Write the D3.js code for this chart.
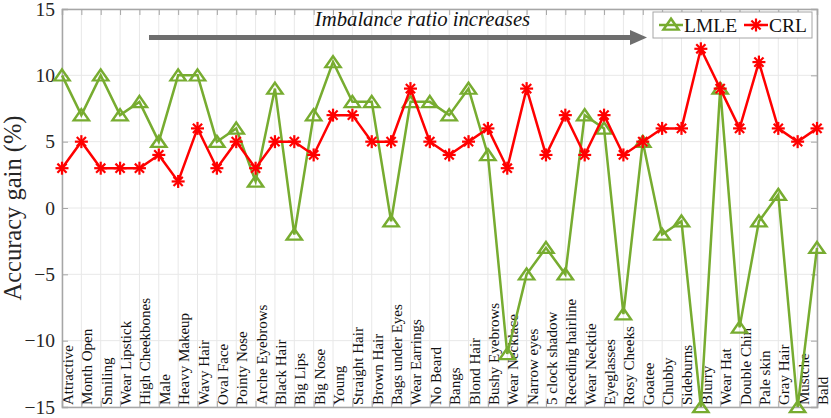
<!DOCTYPE html>
<html>
<head>
<meta charset="utf-8">
<script src="https://cdn.jsdelivr.net/npm/d3@7"></script>
<style>
  body { margin: 0; background: #fff; }
  svg text { font-family: "Liberation Serif", "Times New Roman", Times, serif !important; }
</style>
</head>
<body>
<svg id="chart"></svg>
<script>
// data
const attributes = ["Attractive", "Month Open", "Smiling", "Wear Lipstick", "High Cheekbones", "Male",
  "Heavy Makeup", "Wavy Hair", "Oval Face", "Pointy Nose", "Arche Eyebrows", "Black Hair", "Big Lips",
  "Big Nose", "Young", "Straight Hair", "Brown Hair", "Bags under Eyes", "Wear Earrings", "No Beard",
  "Bangs", "Blond Hair", "Bushy Eyebrows", "Wear Necklace", "Narrow eyes", "5 clock shadow",
  "Receding hairline", "Wear Necktie", "Eyeglasses", "Rosy Cheeks", "Goatee", "Chubby", "Sideburns",
  "Blurry", "Wear Hat", "Double Chin", "Pale skin", "Gray Hair", "Mustche", "Bald"];
const lmle = [10, 7, 10, 7, 8, 5, 10, 10, 5, 6, 2, 9, -2, 7, 11, 8, 8, -1, 8, 8,
  7, 9, 4, -11, -5, -3, -5, 7, 6, -8, 5, -2, -1, -15, 9, -9, -1, 1, -15, -3];
const crl = [3, 5, 3, 3, 3, 4, 2, 6, 3, 5, 3, 5, 5, 4, 7, 7, 5, 5, 9, 5,
  4, 5, 6, 3, 9, 4, 7, 4, 7, 4, 5, 6, 6, 12, 9, 6, 11, 6, 5, 6];
const yTicks = [-15, -10, -5, 0, 5, 10, 15];

const width = 831, height = 418;
const margin = { top: 9, right: 14, bottom: 11, left: 62 };
const green = "#77ac30", red = "#ff0000";

const svg = d3.select("#chart").attr("width", width).attr("height", height);

const x = d3.scalePoint().domain(attributes).range([margin.left, width - margin.right]).padding(0);
const y = d3.scaleLinear().domain([-15, 15]).range([height - margin.bottom, margin.top]);

// grid
svg.append("g").selectAll("line").data(attributes).join("line")
  .attr("x1", d => x(d)).attr("x2", d => x(d))
  .attr("y1", y(15)).attr("y2", y(-15))
  .attr("stroke", "#e8e8e8").attr("stroke-width", 1);
svg.append("g").selectAll("line").data(yTicks).join("line")
  .attr("x1", x.range()[0]).attr("x2", x.range()[1])
  .attr("y1", d => y(d)).attr("y2", d => y(d))
  .attr("stroke", "#e8e8e8").attr("stroke-width", 1);

// category labels, written inside the plot
svg.append("g").selectAll("text").data(attributes).join("text")
  .attr("transform", d => `translate(${x(d) + 11},${y(-15) - 2}) rotate(-90)`)
  .attr("font-size", 15)
  .attr("fill", "#111")
  .text(d => d);

// axes with inward ticks
const tickLen = 6;
const axLeft = d3.axisLeft(y).tickValues(yTicks).tickSize(-tickLen).tickPadding(7);
const gl = svg.append("g").attr("transform", `translate(${margin.left},0)`).call(axLeft);
gl.selectAll("text").attr("font-size", 19.5).attr("fill", "#262626");
const axRight = d3.axisRight(y).tickValues(yTicks).tickSize(-tickLen).tickFormat("");
svg.append("g").attr("transform", `translate(${width - margin.right},0)`).call(axRight);
const axTop = d3.axisTop(x).tickSize(-tickLen).tickFormat("");
svg.append("g").attr("transform", `translate(0,${margin.top})`).call(axTop);
const axBottom = d3.axisBottom(x).tickSize(-tickLen).tickFormat("");
svg.append("g").attr("transform", `translate(0,${height - margin.bottom})`).call(axBottom);
svg.selectAll(".domain").attr("stroke", "#a6a6a6").attr("stroke-width", 1.5);
svg.selectAll(".tick line").attr("stroke", "#a6a6a6");

// y label
svg.append("text")
  .attr("transform", `translate(21,${(y(15) + y(-15)) / 2}) rotate(-90)`)
  .attr("text-anchor", "middle")
  .attr("font-size", 24.5)
  .attr("fill", "#262626")
  .text("Accuracy gain (%)");

// annotation arrow
svg.append("line")
  .attr("x1", 149).attr("x2", 632).attr("y1", 37.5).attr("y2", 37.5)
  .attr("stroke", "#6e6e6e").attr("stroke-width", 5);
svg.append("path")
  .attr("d", "M630,30 L647,37.5 L630,45 Z")
  .attr("fill", "#6e6e6e");
svg.append("text")
  .attr("x", 422.5).attr("y", 26)
  .attr("text-anchor", "middle")
  .attr("font-size", 20.7)
  .attr("font-style", "italic")
  .attr("fill", "#111")
  .text("Imbalance ratio increases");

const line = d3.line().x((d, i) => x(attributes[i])).y(d => y(d));
const tri = d3.symbol().type(d3.symbolTriangle).size(70);

function star(g, cx, cy, r, color) {
  const s = g.append("g").attr("transform", `translate(${cx},${cy})`);
  [0, 45, 90, 135].forEach(a => {
    const rad = a * Math.PI / 180;
    s.append("line")
      .attr("x1", -r * Math.cos(rad)).attr("y1", -r * Math.sin(rad))
      .attr("x2", r * Math.cos(rad)).attr("y2", r * Math.sin(rad))
      .attr("stroke", color).attr("stroke-width", 2.2);
  });
}

// LMLE
svg.append("path").datum(lmle).attr("d", line)
  .attr("fill", "none").attr("stroke", green).attr("stroke-width", 2.5);
svg.append("g").selectAll("path").data(lmle).join("path")
  .attr("d", tri)
  .attr("transform", (d, i) => `translate(${x(attributes[i])},${y(d) + 1.5}) scale(1.2,1)`)
  .attr("fill", "none").attr("stroke", green).attr("stroke-width", 2.2);

// CRL
svg.append("path").datum(crl).attr("d", line)
  .attr("fill", "none").attr("stroke", red).attr("stroke-width", 2.5);
const sg = svg.append("g");
crl.forEach((d, i) => star(sg, x(attributes[i]), y(d), 6.5, red));

// legend
const lg = svg.append("g");
lg.append("rect").attr("x", 653).attr("y", 12).attr("width", 159).attr("height", 26)
  .attr("fill", "#fff").attr("stroke", "#a6a6a6").attr("stroke-width", 1);
lg.append("line").attr("x1", 659).attr("x2", 683).attr("y1", 25).attr("y2", 25)
  .attr("stroke", green).attr("stroke-width", 2.5);
lg.append("path").attr("d", tri).attr("transform", "translate(671,26) scale(1.2,1)")
  .attr("fill", "none").attr("stroke", green).attr("stroke-width", 2.2);
lg.append("text").attr("x", 684).attr("y", 32).attr("font-size", 19.5).attr("fill", "#111").text("LMLE");
lg.append("line").attr("x1", 744).attr("x2", 768).attr("y1", 25).attr("y2", 25)
  .attr("stroke", red).attr("stroke-width", 2.5);
star(lg, 756, 25, 6.5, red);
lg.append("text").attr("x", 769).attr("y", 32).attr("font-size", 19.5).attr("fill", "#111").text("CRL");
</script>
</body>
</html>
